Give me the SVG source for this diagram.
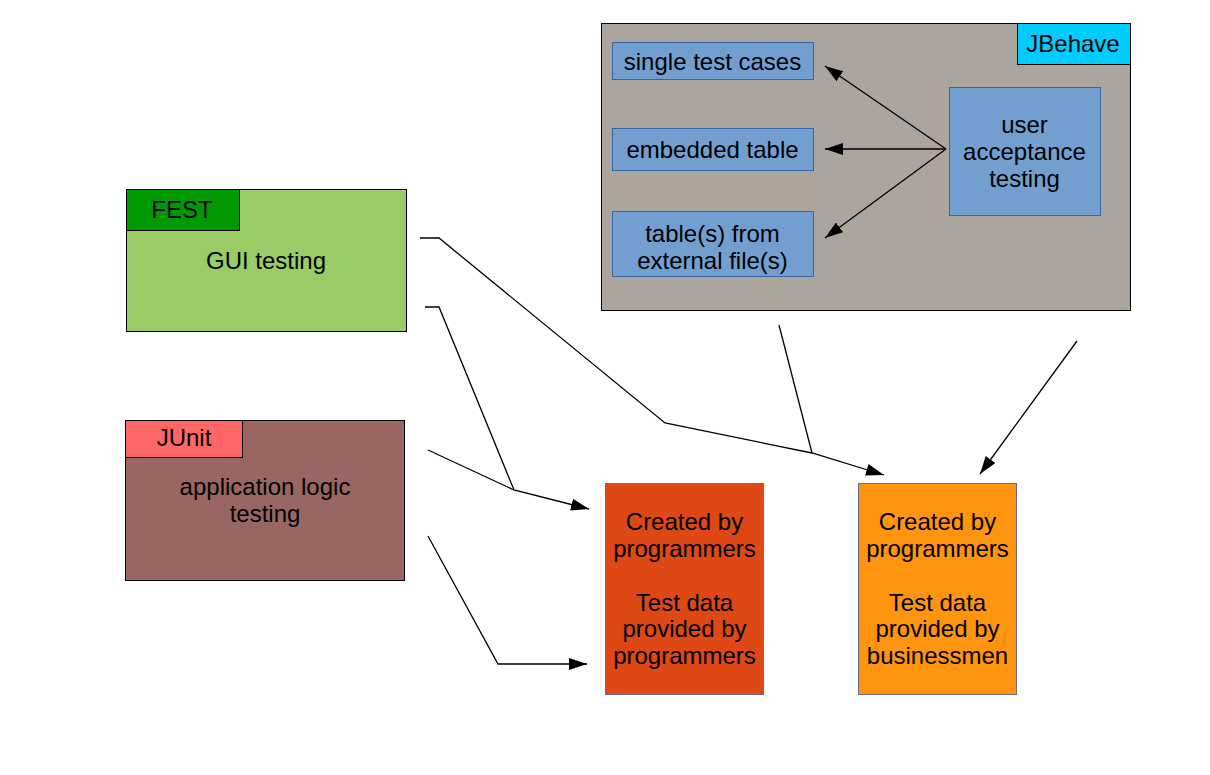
<svg xmlns="http://www.w3.org/2000/svg" width="1210" height="775" viewBox="0 0 1210 775">
<style>
text{font-family:"Liberation Sans",Arial,sans-serif;font-size:24px;fill:#000;text-anchor:middle}
.frame{stroke:#000;stroke-width:1}
.blue{fill:#729fcf;stroke:#3465a4;stroke-width:1}
.res{stroke:#6b6b8a;stroke-width:1}
.con{fill:none;stroke:#000;stroke-width:1.3}
</style>
<defs>
<marker id="ah" markerUnits="userSpaceOnUse" viewBox="0 0 18 12" refX="18" refY="6" markerWidth="18" markerHeight="12" orient="auto">
<path d="M0,0 L18,6 L0,12 z" fill="#000"/>
</marker>
</defs>
<rect width="1210" height="775" fill="#fff"/>

<g id="jbehave">
<rect class="frame" x="601.5" y="23.5" width="529" height="287" fill="#aca59e"/>
<rect class="frame" x="1017.5" y="23.5" width="113" height="41" fill="#00ccff"/>
<text x="1073" y="52">JBehave</text>
</g>
<g id="single">
<rect class="blue" x="612.5" y="42.5" width="201" height="37"/>
<text x="712.5" y="70">single test cases</text>
</g>
<g id="embedded">
<rect class="blue" x="612.5" y="128.5" width="201" height="42"/>
<text x="712.5" y="158">embedded table</text>
</g>
<g id="external">
<rect class="blue" x="612.5" y="211.5" width="201" height="65"/>
<text x="712.5" y="242">table(s) from</text>
<text x="712.5" y="268.5">external file(s)</text>
</g>
<g id="uat">
<rect class="blue" x="949.5" y="87.5" width="151" height="128"/>
<text x="1024.5" y="133">user</text>
<text x="1024.5" y="160">acceptance</text>
<text x="1024.5" y="187">testing</text>
</g>

<g id="fest">
<rect class="frame" x="126.5" y="189.5" width="280" height="142" fill="#99cc66"/>
<rect class="frame" x="126.5" y="189.5" width="113" height="41" fill="#009900"/>
<text x="182" y="218">FEST</text>
<text x="266" y="268.5">GUI testing</text>
</g>

<g id="junit">
<rect class="frame" x="125.5" y="420.5" width="279" height="160" fill="#996663"/>
<rect class="frame" x="125.5" y="420.5" width="117" height="37" fill="#ff6666"/>
<text x="184" y="446">JUnit</text>
<text x="265" y="495">application logic</text>
<text x="265" y="522">testing</text>
</g>

<g id="prog">
<rect class="res" x="605.5" y="483.5" width="158" height="211" fill="#dd4814"/>
<text x="684.5" y="530">Created by</text>
<text x="684.5" y="557">programmers</text>
<text x="684.5" y="611">Test data</text>
<text x="684.5" y="637">provided by</text>
<text x="684.5" y="664">programmers</text>
</g>

<g id="biz">
<rect class="res" x="858.5" y="483.5" width="158" height="211" fill="#ff950e"/>
<text x="937.5" y="530">Created by</text>
<text x="937.5" y="557">programmers</text>
<text x="937.5" y="611">Test data</text>
<text x="937.5" y="637">provided by</text>
<text x="937.5" y="664">businessmen</text>
</g>

<g id="connectors">
<path class="con" d="M946,149 L825,66" marker-end="url(#ah)"/>
<path class="con" d="M946,149 L825,149" marker-end="url(#ah)"/>
<path class="con" d="M946,149 L825,238" marker-end="url(#ah)"/>
<path class="con" d="M420,238 L439,238 L665,423 L812,453 L884,475" marker-end="url(#ah)"/>
<path class="con" d="M779,325 L812,453"/>
<path class="con" d="M425,307 L439,307 L514,490 L589,509" marker-end="url(#ah)"/>
<path class="con" d="M428,450 L514,490"/>
<path class="con" d="M428,536 L498,664 L587,664" marker-end="url(#ah)"/>
<path class="con" d="M1077,341 L980,474" marker-end="url(#ah)"/>
</g>
</svg>
